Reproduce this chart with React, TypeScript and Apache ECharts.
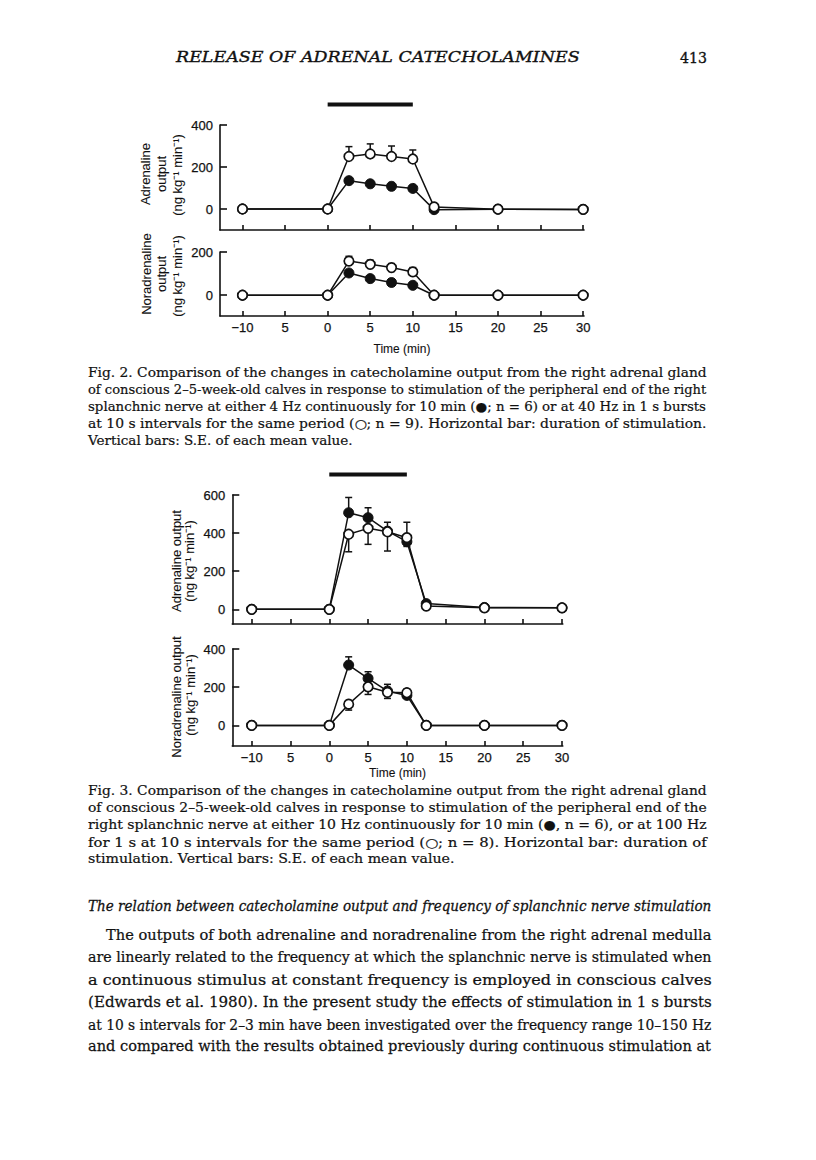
import React, { useEffect, useRef } from 'react';
import * as echarts from 'echarts';

// ---------- data ----------
const times = [-10, 0, 2.5, 5, 7.5, 10, 12.5, 20, 30];
const xTickValues = [-10, -5, 0, 5, 10, 15, 20, 25, 30];
const stimStart = 0;
const stimEnd = 10;

// Fig. 2 – adrenaline
const fig2AdrOpen = [0, 0, 250, 262, 250, 238, 10, -1, -2];
const fig2AdrOpenUp = [null, null, 47, 48, 50, 43, null, null, null];
const fig2AdrFilled = [0, 0, 135, 120, 108, 98, -3, -1, -2];
const fig2AdrFilledUp = [null, null, 6, 9, 10, 8, null, null, null];
// Fig. 2 – noradrenaline
const fig2NorOpen = [0, 0, 158, 143, 128, 108, 0, 0, 0];
const fig2NorOpenUp = [null, null, 22, 19, 18, 20, null, null, null];
const fig2NorFilled = [0, 0, 103, 77, 59, 46, 0, 0, 0];

// Fig. 3 – adrenaline
const fig3AdrFilled = [0, 0, 507, 481, 410, 355, 30, 10, 8];
const fig3AdrFilledUp = [null, null, 80, 52, 47, null, null, null, null];
const fig3AdrFilledDown = [null, null, null, null, null, 25, null, null, null];
const fig3AdrOpen = [0, 0, 394, 425, 407, 376, 17, 8, 8];
const fig3AdrOpenUp = [null, null, null, null, null, 81, null, null, null];
const fig3AdrOpenDown = [null, null, 92, 84, 101, null, null, null, null];
// Fig. 3 – noradrenaline
const fig3NorFilled = [0, 0, 316, 246, 180, 157, 0, 0, 0];
const fig3NorFilledUp = [null, null, 43, 35, 35, null, null, null, null];
const fig3NorFilledDown = [null, null, null, null, null, 15, null, null, null];
const fig3NorOpen = [0, 0, 111, 202, 173, 171, 0, 0, 0];
const fig3NorOpenUp = [null, null, null, null, null, 20, null, null, null];
const fig3NorOpenDown = [null, null, 31, 40, 32, null, null, null, null];

const yTicksAdr2 = [0, 200, 400];
const yTicksNor2 = [0, 200];
const yTicksAdr3 = [0, 200, 400, 600];
const yTicksNor3 = [0, 200, 400];

// ---------- text ----------
const headerTitle = 'RELEASE OF ADRENAL CATECHOLAMINES';
const pageNumber = '413';
const fig2Caption = [
  'Fig. 2. Comparison of the changes in catecholamine output from the right adrenal gland',
  'of conscious 2\u20135-week-old calves in response to stimulation of the peripheral end of the right',
  'splanchnic nerve at either 4 Hz continuously for 10 min (\u25CF; n = 6) or at 40 Hz in 1 s bursts',
  'at 10 s intervals for the same period (\u25CB; n = 9). Horizontal bar: duration of stimulation.',
  'Vertical bars: S.E. of each mean value.',
];
const fig3Caption = [
  'Fig. 3. Comparison of the changes in catecholamine output from the right adrenal gland',
  'of conscious 2\u20135-week-old calves in response to stimulation of the peripheral end of the',
  'right splanchnic nerve at either 10 Hz continuously for 10 min (\u25CF, n = 6), or at 100 Hz',
  'for 1 s at 10 s intervals for the same period (\u25CB; n = 8). Horizontal bar: duration of',
  'stimulation. Vertical bars: S.E. of each mean value.',
];
const sectionHeading =
  'The relation between catecholamine output and frequency of splanchnic nerve stimulation';
const bodyLines = [
  'The outputs of both adrenaline and noradrenaline from the right adrenal medulla',
  'are linearly related to the frequency at which the splanchnic nerve is stimulated when',
  'a continuous stimulus at constant frequency is employed in conscious calves',
  '(Edwards et al. 1980). In the present study the effects of stimulation in 1 s bursts',
  'at 10 s intervals for 2\u20133 min have been investigated over the frequency range 10\u2013150 Hz',
  'and compared with the results obtained previously during continuous stimulation at',
];

const SANS = "'Liberation Sans', Arial, sans-serif";
const INK = '#111';

const panels = [
  { left: 220, top: 125, width: 364, height: 105, xMin: -12.64, xMax: 30.1, yMin: -100, yMax: 400, yTicks: yTicksAdr2, showX: false, nameGap: 27 },
  { left: 220, top: 252, width: 364, height: 64, xMin: -12.64, xMax: 30.1, yMin: -96, yMax: 200, yTicks: yTicksNor2, showX: true, nameGap: 27 },
  { left: 232.3, top: 495, width: 330.5, height: 129, xMin: -12.5, xMax: 30.1, yMin: -77, yMax: 600, yTicks: yTicksAdr3, showX: false, nameGap: 21 },
  { left: 232.3, top: 649, width: 330.5, height: 97, xMin: -12.5, xMax: 30.1, yMin: -108, yMax: 400, yTicks: yTicksNor3, showX: true, nameGap: 21 },
];

const pairs = (vals: number[]) => times.map((t, i) => [t, vals[i]]);
const errData = (vals: number[], up: (number | null)[] | null, down: (number | null)[] | null) =>
  times
    .map((t, i) => [t, vals[i], (up && up[i]) || 0, (down && down[i]) || 0])
    .filter((d) => d[2] > 0 || d[3] > 0);

function lineSeries(idx: number, vals: number[], open: boolean) {
  return {
    type: 'line',
    xAxisIndex: idx,
    yAxisIndex: idx,
    data: pairs(vals),
    symbol: 'circle',
    symbolSize: open ? 9.5 : 10,
    z: open ? 4 : 3,
    lineStyle: { color: INK, width: 1.5 },
    itemStyle: open
      ? { color: '#fff', borderColor: INK, borderWidth: 1.7 }
      : { color: INK, borderColor: INK, borderWidth: 1 },
    emphasis: { disabled: true },
  };
}

function errSeries(idx: number, data: number[][]) {
  return {
    type: 'custom',
    xAxisIndex: idx,
    yAxisIndex: idx,
    z: 2,
    data,
    encode: { x: 0, y: 1 },
    renderItem: (_p: any, api: any) => {
      const x = api.value(0);
      const y = api.value(1);
      const up = api.value(2);
      const dn = api.value(3);
      const c = api.coord([x, y]);
      const st = { stroke: INK, lineWidth: 1.5 };
      const cap = 3.5;
      const children: any[] = [];
      if (up > 0) {
        const t = api.coord([x, y + up]);
        children.push({ type: 'line', shape: { x1: c[0], y1: c[1], x2: t[0], y2: t[1] }, style: st });
        children.push({ type: 'line', shape: { x1: t[0] - cap, y1: t[1], x2: t[0] + cap, y2: t[1] }, style: st });
      }
      if (dn > 0) {
        const b = api.coord([x, y - dn]);
        children.push({ type: 'line', shape: { x1: c[0], y1: c[1], x2: b[0], y2: b[1] }, style: st });
        children.push({ type: 'line', shape: { x1: b[0] - cap, y1: b[1], x2: b[0] + cap, y2: b[1] }, style: st });
      }
      return { type: 'group', children };
    },
  };
}

const xLabel = (v: number) => (v === -10 ? '\u221210' : String(Math.abs(v)));

export default function App() {
  const ref = useRef<HTMLDivElement>(null);
  useEffect(() => {
    const chart = echarts.init(ref.current!, null, { renderer: 'svg', width: 816, height: 1160 });

    const tickFont = { color: INK, fontFamily: SANS, fontSize: 13, textBorderColor: INK, textBorderWidth: 0.25 };
    const grid = panels.map((p) => ({ left: p.left, top: p.top, width: p.width, height: p.height }));
    const xAxis = panels.map((p, i) => ({
      type: 'value',
      gridIndex: i,
      min: p.xMin,
      max: p.xMax,
      splitLine: { show: false },
      axisLine: { show: true, onZero: false, lineStyle: { color: INK, width: 1.6 } },
      axisTick: { show: true, inside: true, length: 5, customValues: xTickValues, lineStyle: { color: INK, width: 1.6 } },
      axisLabel: { show: p.showX, customValues: xTickValues, formatter: xLabel, margin: 5, ...tickFont },
      name: p.showX ? 'Time (min)' : '',
      nameLocation: 'middle',
      nameGap: p.nameGap,
      nameTextStyle: { color: INK, fontFamily: SANS, fontSize: 12, textBorderColor: INK, textBorderWidth: 0.1 },
    }));
    const yAxis = panels.map((p, i) => ({
      type: 'value',
      gridIndex: i,
      min: p.yMin,
      max: p.yMax,
      splitLine: { show: false },
      axisLine: { show: true, onZero: false, lineStyle: { color: INK, width: 1.6 } },
      axisTick: { show: true, inside: true, length: 7, customValues: p.yTicks, lineStyle: { color: INK, width: 1.6 } },
      axisLabel: { customValues: p.yTicks, margin: 7, ...tickFont },
    }));

    const series = [
      errSeries(0, errData(fig2AdrFilled, fig2AdrFilledUp, null)),
      errSeries(0, errData(fig2AdrOpen, fig2AdrOpenUp, null)),
      lineSeries(0, fig2AdrFilled, false),
      lineSeries(0, fig2AdrOpen, true),
      errSeries(1, errData(fig2NorOpen, fig2NorOpenUp, null)),
      lineSeries(1, fig2NorFilled, false),
      lineSeries(1, fig2NorOpen, true),
      errSeries(2, errData(fig3AdrFilled, fig3AdrFilledUp, fig3AdrFilledDown)),
      errSeries(2, errData(fig3AdrOpen, fig3AdrOpenUp, fig3AdrOpenDown)),
      lineSeries(2, fig3AdrFilled, false),
      lineSeries(2, fig3AdrOpen, true),
      errSeries(3, errData(fig3NorFilled, fig3NorFilledUp, fig3NorFilledDown)),
      errSeries(3, errData(fig3NorOpen, fig3NorOpenUp, fig3NorOpenDown)),
      lineSeries(3, fig3NorFilled, false),
      lineSeries(3, fig3NorOpen, true),
    ];

    chart.setOption({ animation: false, backgroundColor: '#fff', grid, xAxis, yAxis, series });

    // ---- text & stimulation bars ----
    const ctx = document.createElement('canvas').getContext('2d')!;
    const measure = (t: string, font: string) => {
      ctx.font = font;
      return ctx.measureText(t).width;
    };
    const elements: any[] = [];
    const textEl = (text: string, x: number, y: number, font: string, scaleX = 1, weight = 0.2) => ({
      type: 'text',
      x,
      y,
      scaleX,
      style: {
        text,
        font,
        fill: INK,
        stroke: INK,
        lineWidth: weight,
        textAlign: 'left',
        verticalAlign: 'middle',
        textVerticalAlign: 'middle',
      },
    });
    const block = (lines: string[], font: string, x0: number, xR: number, y0: number, step: number, indent: number, lastNatural: boolean, weight: number) => {
      const scales = lines.map((l, i) => (xR - x0 - (i === 0 ? indent : 0)) / measure(l, font));
      const n = lastNatural ? lines.length - 1 : lines.length;
      const avg = scales.slice(0, n).reduce((a, b) => a + b, 0) / n;
      lines.forEach((l, i) => {
        const s = lastNatural && i === lines.length - 1 ? avg : scales[i];
        elements.push(textEl(l, x0 + (i === 0 ? indent : 0), y0 + i * step, font, s, weight));
      });
    };

    // running header
    const hFont = "italic 15px 'DejaVu Serif'";
    elements.push(textEl(headerTitle, 176, 57, hFont, 404 / measure(headerTitle, hFont), 0.35));
    const pFont = "15px 'DejaVu Serif'";
    elements.push(textEl(pageNumber, 680, 57, pFont, 27 / measure(pageNumber, pFont), 0.35));

    // captions
    const capFont = "12.5px 'DejaVu Serif'";
    block(fig2Caption, capFont, 88, 707, 373, 17, 0, true, 0.2);
    block(fig3Caption, capFont, 88, 707, 791, 17, 0, true, 0.2);
    // heading + body
    const headFont = "italic 15px 'DejaVu Serif'";
    block([sectionHeading], headFont, 88, 712, 906, 22, 0, false, 0.3);
    block(bodyLines, "15.5px 'DejaVu Serif'", 88, 712, 935, 22.2, 18, false, 0.25);

    // y-axis titles (rotated)
    const rot = (text: string, x: number, y: number, size = 13) => ({
      type: 'text',
      x,
      y,
      rotation: Math.PI / 2,
      style: {
        text,
        font: `${size}px ${SANS}`,
        fill: INK,
        stroke: INK,
        lineWidth: 0.1,
        textAlign: 'center',
        verticalAlign: 'middle',
        textVerticalAlign: 'middle',
      },
    });
    const unit = '(ng kg\u207B\u00B9 min\u207B\u00B9)';
    elements.push(rot('Adrenaline', 145, 174), rot('output', 161.5, 174), rot(unit, 177, 175));
    elements.push(rot('Noradrenaline', 146.5, 274), rot('output', 161.5, 274), rot(unit, 177, 276));
    elements.push(rot('Adrenaline output', 176.5, 561), rot(unit, 189, 561));
    elements.push(rot('Noradrenaline output', 176.5, 697), rot(unit, 190, 695));

    // stimulation bars from the axis scales
    [0, 2].forEach((gi) => {
      const a = chart.convertToPixel({ gridIndex: gi } as any, [stimStart, panels[gi].yMax]) as number[];
      const b = chart.convertToPixel({ gridIndex: gi } as any, [stimEnd, panels[gi].yMax]) as number[];
      elements.push({
        type: 'rect',
        shape: { x: a[0], y: a[1] - 22.5, width: b[0] - a[0], height: 4 },
        style: { fill: INK },
      });
    });

    chart.setOption({ graphic: { elements } });
    return () => chart.dispose();
  }, []);
  return (
    <div
      ref={ref}
      style={{ position: 'absolute', left: 0, top: 0, width: 816, height: 1160, background: '#fff' }}
    />
  );
}
